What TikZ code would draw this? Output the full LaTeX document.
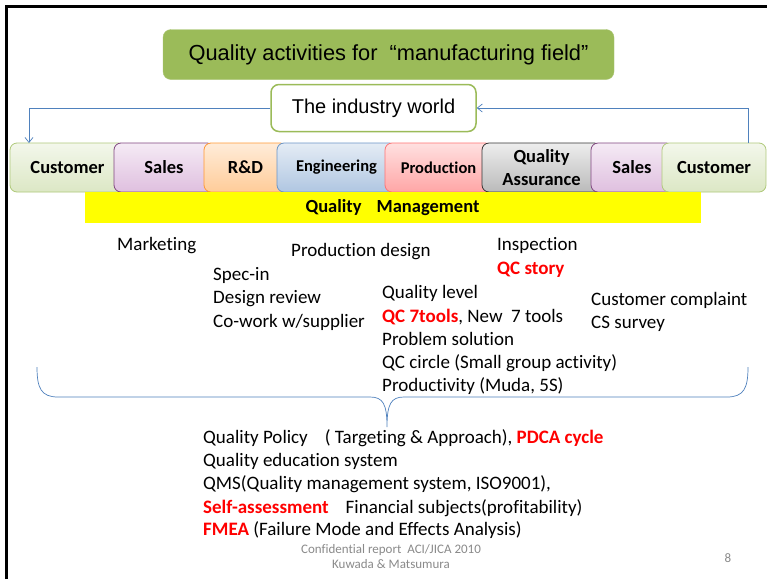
\documentclass[tikz,border=0pt]{standalone}
\usepackage{fontspec}
\setmainfont{Carlito}[Ligatures=NoCommon]
\newfontfamily\arialf{Liberation Sans}
\usetikzlibrary{arrows.meta}

\definecolor{olive}{HTML}{9BBB59}
\definecolor{linkblue}{HTML}{4F81BD}
\definecolor{hotred}{HTML}{FF0000}
\definecolor{footgray}{HTML}{8A8A8A}
\definecolor{baryellow}{HTML}{FFFF00}

\newcommand{\fs}[2]{\fontsize{#1}{#2}\selectfont}
\newcommand{\hot}[1]{\textcolor{hotred}{\textbf{#1}}}

\tikzset{
  stage/.style={draw, rounded corners=7pt, line width=0.8pt, minimum height=49pt,
    inner sep=0pt, align=center, font=\fs{18.5}{23}\bfseries},
  stagesmall/.style={stage, font=\fs{16.5}{20}\bfseries},
  item/.style={anchor=base west, inner sep=0pt, font=\fs{19}{23}},
  feed/.style={draw=linkblue, line width=0.7pt, -{Straight Barb[length=5pt,width=8pt]}},
  foot/.style={inner sep=0pt, text=footgray, font=\fs{13}{15}}
}

\begin{document}
\begin{tikzpicture}[x=1pt,y=-1pt]
\useasboundingbox[fill=white] (0,0) rectangle (767,579);

% slide frame (top and left edges)
\draw[line width=2.5pt] (6.3,579) -- (6.3,6.3) -- (767,6.3);

% heading
\node[fill=olive, draw=olive!85!white, rounded corners=8pt, minimum width=451pt,
      minimum height=50pt, inner sep=0pt, font=\arialf\fs{21.8}{24}]
  (title) at (388.5,54.5) {Quality activities for \ “manufacturing field”};

\node[fill=white, draw=olive, line width=1.5pt, rounded corners=8pt, minimum width=205pt,
      minimum height=47pt, inner sep=0pt, font=\arialf\fs{20}{24}]
  (world) at (373.5,108) {The industry world};

% value chain, drawn left to right so each stage overlaps the previous one
\node[stage, minimum width=115pt, draw=olive!80!white, top color=olive!12!white, bottom color=olive!35!white]
  (custL) at (67.5,167.5) {Customer};
\node[stage, minimum width=100pt, draw=violet!45!gray, top color=violet!8!white, bottom color=violet!25!white]
  (salesL) at (164,167.5) {Sales};
\node[stage, minimum width=83pt, draw=orange!80!white, top color=orange!15!white, bottom color=orange!40!white]
  (rd) at (245.5,167.5) {R\&D};
\node[stagesmall, minimum width=119pt, draw=linkblue!85!white, top color=linkblue!15!white, bottom color=linkblue!45!white]
  (eng) at (336.5,167.5) {Engineering};
\node[stagesmall, minimum width=107pt, draw=red!55!white, top color=red!12!white, bottom color=red!35!white]
  (prod) at (438.5,167.5) {Production};
\node[stage, minimum width=119pt, draw=black!80, top color=black!7, bottom color=black!27]
  (qa) at (541.5,167.5) {Quality\\Assurance};
\node[stage, minimum width=82pt, draw=violet!45!gray, top color=violet!8!white, bottom color=violet!25!white]
  (salesR) at (632,167.5) {Sales};
\node[stage, minimum width=104pt, draw=olive!80!white, top color=olive!12!white, bottom color=olive!35!white]
  (custR) at (714,167.5) {Customer};

% management bar
\node[fill=baryellow, minimum width=616pt, minimum height=31pt, inner sep=0pt,
      font=\fs{18.5}{22}\bfseries]
  (qm) at (392.5,207.5) {Quality\hspace{15pt}Management};

% feedback loop through the industry world
\coordinate (inL) at (29,143);
\coordinate (outR) at (748,143);
\draw[feed] (world.west) -| (inL);
\draw[feed] (outR) |- (world.east);

% activities per stage
\node[item] (mkt) at (117,250) {Marketing};
\node[item] (pdes) at (291,256) {Production design};
\node[item] (spec) at (213,280) {Spec-in};
\node[item] (drev) at (213,303) {Design review};
\node[item] (cowk) at (213,327) {Co-work w/supplier};
\node[item] (qlev) at (382,298) {Quality level};
\node[item] (qc7) at (382,322) {\hot{QC 7tools}, New\ \ 7 tools};
\node[item] (prob) at (382,345) {Problem solution};
\node[item] (qcc) at (382,368) {QC circle (Small group activity)};
\node[item] (prodv) at (382,391) {Productivity (Muda, 5S)};
\node[item] (insp) at (497,250) {Inspection};
\node[item] (qcs) at (497,274) {\hot{QC story}};
\node[item] (ccomp) at (591,305) {Customer complaint};
\node[item] (css) at (591,328) {CS survey};

% brace gathering all stages
\draw[linkblue, line width=0.7pt]
  (37,367) .. controls (37,388) and (41,397) .. (58,397) -- (370,397)
  .. controls (383,397) and (387,404) .. (387,427)
  .. controls (387,404) and (391,397) .. (404,397) -- (727,397)
  .. controls (744,397) and (748,388) .. (748,367);

% company-wide topics
\node[item] (pol) at (203,443) {Quality Policy\hspace{17pt}( Targeting \& Approach), \hot{PDCA cycle}};
\node[item] (edu) at (203,466) {Quality education system};
\node[item] (qms) at (203,489) {QMS(Quality management system, ISO9001),};
\node[item] (self) at (203,513) {\hot{Self-assessment}\hspace{17pt}Financial subjects(profitability)};
\node[item] (fmea) at (203,535) {\hot{FMEA} (Failure Mode and Effects Analysis)};

% footer
\node[foot] (conf) at (391,550) {Confidential report\ \ ACI/JICA 2010};
\node[foot] (auth) at (391,564) {Kuwada \& Matsumura};
\node[foot] (page) at (728,558) {8};
\end{tikzpicture}
\end{document}
